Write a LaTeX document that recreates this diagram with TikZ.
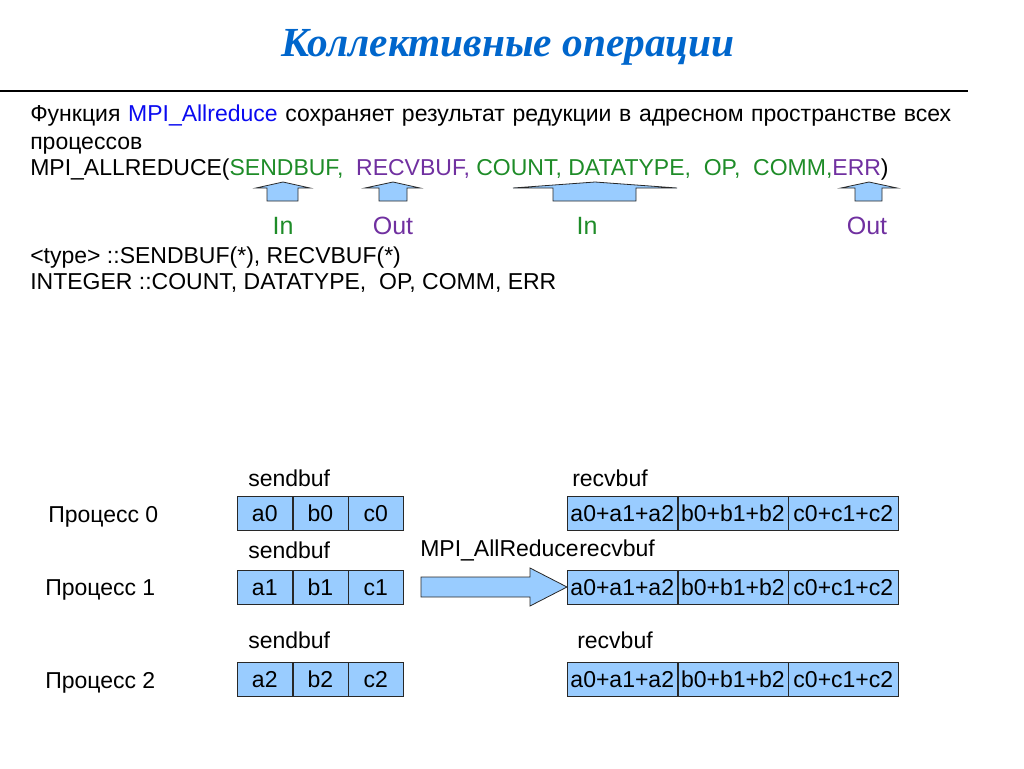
\documentclass[tikz,border=0pt]{standalone}
\usepackage{fontspec}
\setmainfont{Liberation Sans}
\newfontfamily\titlefont{Liberation Serif}
\definecolor{titleblue}{RGB}{0,102,204}
\definecolor{fnblue}{RGB}{10,10,240}
\definecolor{ingreen}{RGB}{30,140,40}
\definecolor{outpurple}{RGB}{112,48,160}
\definecolor{cellblue}{RGB}{153,204,255}
\definecolor{edge}{RGB}{40,40,40}
\begin{document}
\begin{tikzpicture}[x=0.75pt,y=-0.75pt,
  body/.style={font=\fontsize{17.25}{20}\selectfont, inner sep=0pt, anchor=base west},
  lab/.style={font=\fontsize{17.25}{20}\selectfont, inner sep=0pt, anchor=west},
  io/.style={font=\fontsize{18.75}{22}\selectfont, inner sep=0pt},
  cell/.style={draw=edge, fill=cellblue, minimum width=41.25pt, minimum height=25.5pt, inner sep=0pt, anchor=west, text height=12.5pt, text depth=0.5pt, font=\fontsize{17.25}{20}\selectfont},
  wcell/.style={cell, minimum width=82.5pt},
  uparrow/.style={draw=edge, fill=cellblue, line width=0.6pt, line join=miter}]
\useasboundingbox (0,0) rectangle (1024,768);
% title
\node[inner sep=0pt, anchor=base, text=titleblue, font=\titlefont\fontsize{31}{36}\selectfont\bfseries\itshape] (title) at (508,56) {Коллективные операции};
\draw[line width=1.5pt] (0,91) -- (968,91);
% body text
\node[body] (l1) at (30,121.5) {\hbox to 690.75pt{\spaceskip=0.28em plus 1fil Функция \textcolor{fnblue}{MPI\_Allreduce} сохраняет результат редукции в адресном пространстве всех}};
\node[body] (l2) at (30,149.5) {процессов};
\node[body] (l3) at (30,175) {MPI\_ALLREDUCE(\textcolor{ingreen}{SENDBUF,}\ \ \textcolor{outpurple}{RECVBUF,} \textcolor{ingreen}{COUNT, DATATYPE,\ \ OP,\ \ COMM,}\textcolor{outpurple}{ERR})};
\node[body] (l4) at (30,263) {<type> ::SENDBUF(*), RECVBUF(*)};
\node[body] (l5) at (30,289) {INTEGER ::COUNT, DATATYPE,\ \ OP, COMM, ERR};
% up arrows
\draw[uparrow] (256,188) -- (283,182) -- (310,188) -- (298,188) -- (298,201) -- (267,201) -- (267,188) -- cycle;
\draw[uparrow] (365,188) -- (393,182) -- (420,188) -- (407,188) -- (407,201) -- (379,201) -- (379,188) -- cycle;
\draw[uparrow] (513,188) -- (595,182) -- (677,188) -- (636,188) -- (636,201) -- (553,201) -- (553,188) -- cycle;
\draw[uparrow] (841,188) -- (869,182) -- (897,188) -- (882,188) -- (882,201) -- (855,201) -- (855,188) -- cycle;
\node[io, text=ingreen] (in1) at (283,226) {In};
\node[io, text=outpurple] (out1) at (393,226) {Out};
\node[io, text=ingreen] (in2) at (587,226) {In};
\node[io, text=outpurple] (out2) at (867,226) {Out};
% processes
\node[body] (p0) at (48,522) {Процесс 0};
\node[body] (p1) at (45,595) {Процесс 1};
\node[body] (p2) at (45,688) {Процесс 2};
% labels
\node[lab] (sb0) at (248,478) {sendbuf};
\node[lab] (rb0) at (572,478) {recvbuf};
\node[lab] (sb1) at (248,550) {sendbuf};
\node[lab] (mpi) at (420,550) {MPI\_AllReduce};
\node[lab, anchor=base west] (rb1) at (mpi.base east) {recvbuf};
\node[lab] (sb2) at (248,640) {sendbuf};
\node[lab] (rb2) at (577,640) {recvbuf};
% cells row 0
\node[cell] (a0) at (237,513) {a0};
\node[cell] (b0) at (a0.east) {b0};
\node[cell] (c0) at (b0.east) {c0};
\node[wcell] (ra0) at (567,513) {a0+a1+a2};
\node[wcell] (rb0c) at (ra0.east) {b0+b1+b2};
\node[wcell] (rc0) at (rb0c.east) {c0+c1+c2};
% row 1
\node[cell] (a1) at (237,587) {a1};
\node[cell] (b1) at (a1.east) {b1};
\node[cell] (c1) at (b1.east) {c1};
\node[wcell] (ra1) at (567,587) {a0+a1+a2};
\node[wcell] (rb1c) at (ra1.east) {b0+b1+b2};
\node[wcell] (rc1) at (rb1c.east) {c0+c1+c2};
% row 2
\node[cell] (a2) at (237,679) {a2};
\node[cell] (b2) at (a2.east) {b2};
\node[cell] (c2) at (b2.east) {c2};
\node[wcell] (ra2) at (567,679) {a0+a1+a2};
\node[wcell] (rb2c) at (ra2.east) {b0+b1+b2};
\node[wcell] (rc2) at (rb2c.east) {c0+c1+c2};
% big arrow
\draw[uparrow] (421,577) -- (530,577) -- (530,568) -- (ra1.west) -- (530,606) -- (530,597) -- (421,597) -- cycle;
\end{tikzpicture}
\end{document}
